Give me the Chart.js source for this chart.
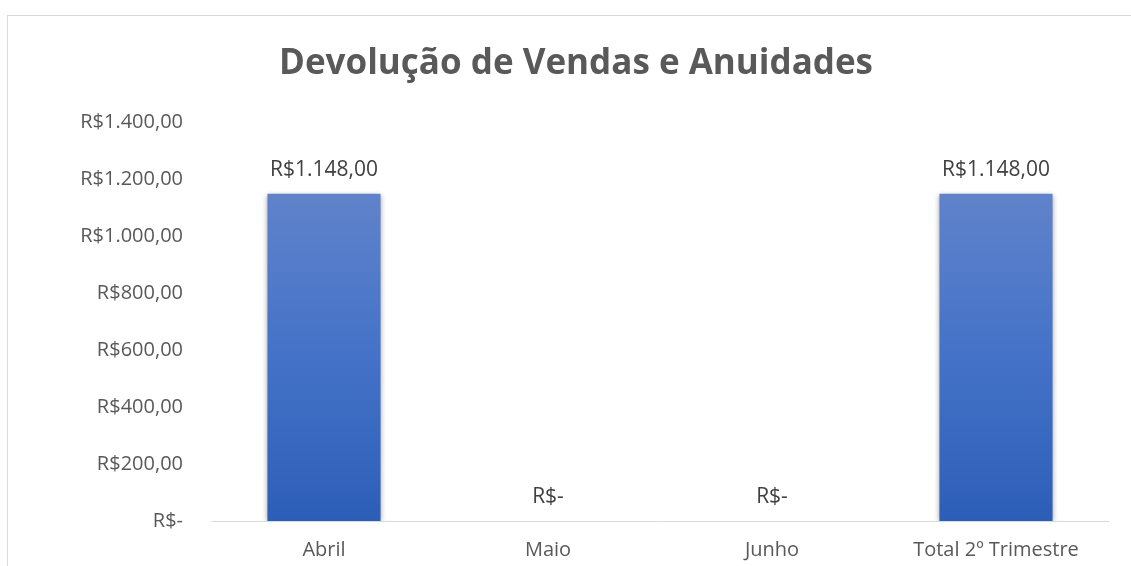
<!DOCTYPE html>
<html>
<head>
<meta charset="utf-8">
<script src="https://cdn.jsdelivr.net/npm/chart.js@4.4.1/dist/chart.umd.min.js"></script>
<style>
  html, body { margin: 0; padding: 0; background: #fff; overflow: hidden; }
  #frame {
    position: absolute; left: 7px; top: 15px; width: 1140px; height: 570px;
    border: 1px solid #d9d9d9;
  }
  #wrap { position: absolute; left: 0; top: 0; width: 1131px; height: 566px; }
</style>
</head>
<body>
<div id="frame"></div>
<div id="wrap"><canvas id="myChart"></canvas></div>
<script>
const titleText = "Devolução de Vendas e Anuidades";
const categories = ["Abril", "Maio", "Junho", "Total 2º Trimestre"];
const values = [1148, 0, 0, 1148];
const yTicks = [0, 200, 400, 600, 800, 1000, 1200, 1400];

const ctx = document.getElementById("myChart");

// R$ format in pt-BR style, zero shown as "R$-"
const formatBRL = (v) => {
  if (v === 0) return "R$-";
  const parts = v.toFixed(2).split(".");
  const intPart = parts[0].replace(/\B(?=(\d{3})+(?!\d))/g, ".");
  return `R$${intPart},${parts[1]}`;
};

const barFill = (context) => {
  const chart = context.chart;
  const y = chart.scales.y;
  if (!chart.chartArea || !y) return "#4472c4";
  const v = context.raw || 0;
  const top = y.getPixelForValue(v);
  const base = y.getPixelForValue(0);
  if (base - top < 1) return "#4472c4";
  const g = chart.ctx.createLinearGradient(0, top, 0, base);
  g.addColorStop(0, "#6083ca");
  g.addColorStop(0.5, "#4472c8");
  g.addColorStop(1, "#2d5eb7");
  return g;
};

const barShadow = {
  id: "barShadow",
  beforeDatasetsDraw(chart) {
    const c = chart.ctx;
    c.save();
    c.shadowColor = "rgba(0,0,0,0.35)";
    c.shadowBlur = 5;
    c.shadowOffsetX = 0;
    c.shadowOffsetY = 1;
  },
  afterDatasetsDraw(chart) {
    chart.ctx.restore();
  },
};

const valueLabels = {
  id: "valueLabels",
  afterDatasetsDraw(chart) {
    const c = chart.ctx;
    const meta = chart.getDatasetMeta(0);
    c.save();
    c.font = "21px 'Open Sans'";
    c.fillStyle = "#404040";
    c.textAlign = "center";
    c.textBaseline = "middle";
    meta.data.forEach((bar, i) => {
      c.fillText(formatBRL(values[i]), bar.x, bar.y - 24);
    });
    c.restore();
  },
};

// title drawn centred on the whole frame, like the original
const chartTitle = {
  id: "chartTitle",
  afterDraw(chart) {
    const c = chart.ctx;
    c.save();
    c.font = "bold 35px 'Open Sans'";
    c.fillStyle = "#595959";
    c.textAlign = "center";
    c.textBaseline = "middle";
    c.fillText(titleText, 576, 64);
    c.restore();
  },
};

new Chart(ctx, {
  type: "bar",
  data: {
    labels: categories,
    datasets: [
      {
        data: values,
        backgroundColor: barFill,
        borderWidth: 0,
        categoryPercentage: 1,
        barPercentage: 0.505,
      },
    ],
  },
  plugins: [barShadow, valueLabels, chartTitle],
  options: {
    responsive: true,
    maintainAspectRatio: false,
    animation: false,
    layout: { padding: { left: 0, right: 23, top: 122, bottom: 0 } },
    plugins: {
      legend: { display: false },
      tooltip: { enabled: false },
      title: { display: false },
    },
    scales: {
      x: {
        grid: { display: false, drawTicks: false },
        border: { display: true, color: "#d9d9d9", width: 1 },
        ticks: {
          color: "#595959",
          font: { family: "'Open Sans'", size: 20 },
          padding: 17,
          maxRotation: 0,
        },
        afterFit: (scale) => { scale.height = 45; },
      },
      y: {
        min: 0,
        max: 1400,
        grid: { display: false, drawTicks: false },
        border: { display: false },
        afterBuildTicks: (scale) => {
          scale.ticks = yTicks.map((v) => ({ value: v }));
        },
        ticks: {
          color: "#595959",
          font: { family: "'Open Sans'", size: 20 },
          padding: 29,
          callback: (v) => formatBRL(v),
        },
        afterFit: (scale) => { scale.width = 212; },
      },
    },
  },
});
</script>
</body>
</html>
